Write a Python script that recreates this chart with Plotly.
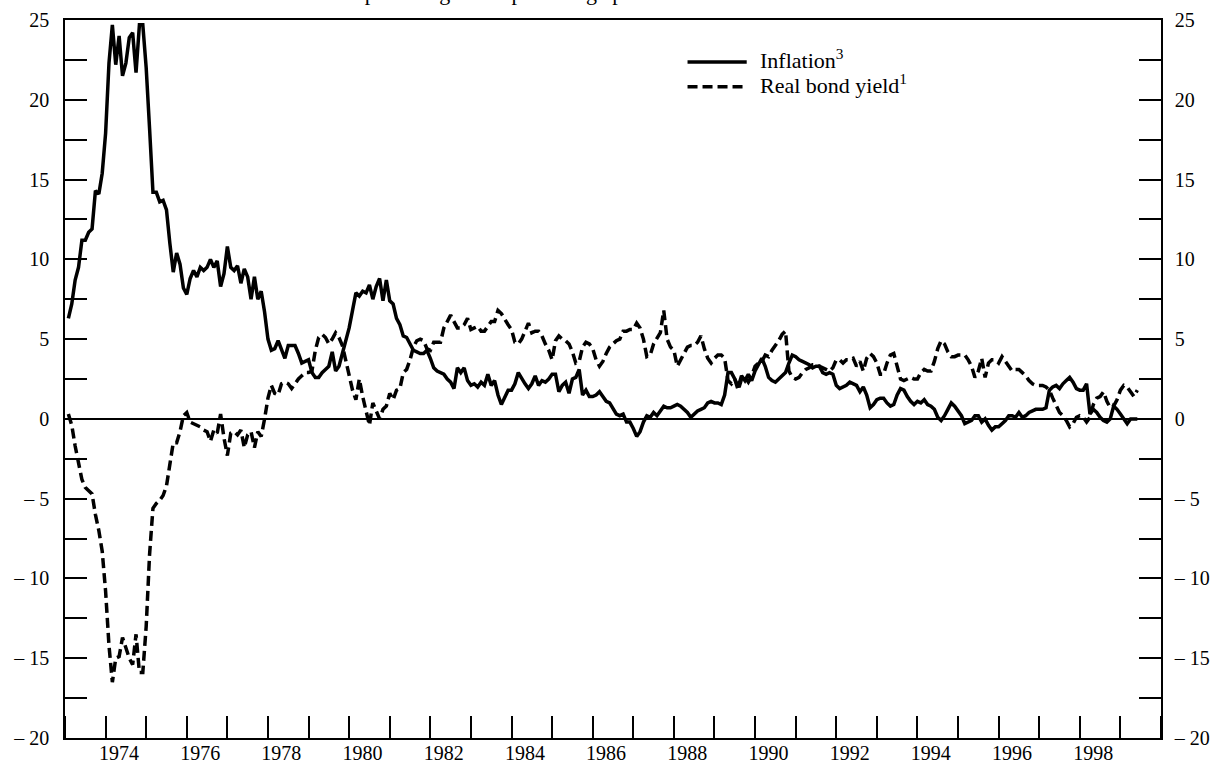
import plotly.graph_objects as go

# ---- data (monthly, Feb 1973 onwards) ----
start_year = 1973
inflation = [
    6.3, 7.2, 8.7, 9.5, 11.2, 11.2, 11.7, 11.9, 14.3, 14.1, 15.4, 17.9,
    22.3, 24.7, 22.2, 24.0, 21.5, 22.3, 23.9, 24.2, 21.7, 24.7, 24.7, 22.0,
    18.2, 14.2, 14.2, 13.6, 13.7, 13.1, 11.0, 9.2, 10.4, 9.7, 8.2, 7.8,
    8.8, 9.3, 8.9, 9.5, 9.3, 9.5, 10.0, 9.5, 9.9, 8.3, 9.1, 10.8,
    9.5, 9.3, 9.6, 8.5, 9.4, 8.9, 7.5, 8.9, 7.5, 8.0, 6.7, 5.0,
    4.3, 4.4, 4.9, 4.3, 3.8, 4.6, 4.6, 4.6, 4.1, 3.5, 3.6, 3.7,
    2.9, 2.6, 2.6, 2.9, 3.1, 3.3, 4.2, 3.0, 3.3, 4.1, 4.9, 5.7,
    6.8, 7.9, 7.7, 8.0, 7.9, 8.4, 7.5, 8.3, 8.8, 7.4, 8.7, 7.4,
    7.2, 6.3, 5.9, 5.2, 5.1, 4.7, 4.3, 4.2, 4.1, 4.1, 4.3, 3.8,
    3.2, 3.0, 2.9, 2.8, 2.5, 2.3, 1.9, 3.2, 2.9, 3.2, 2.4, 2.1,
    2.2, 2.0, 2.3, 2.1, 2.8, 2.1, 2.4, 1.5, 0.9, 1.3, 1.8, 1.8,
    2.2, 2.9, 2.5, 2.2, 1.9, 2.2, 2.7, 2.1, 2.4, 2.3, 2.5, 2.8,
    2.8, 1.7, 2.1, 2.3, 1.6, 2.5, 2.6, 3.1, 1.5, 1.8, 1.4, 1.4,
    1.5, 1.7, 1.4, 1.1, 1.0, 0.6, 0.3, 0.2, 0.3, -0.2, -0.2, -0.6,
    -1.1, -0.8, -0.2, 0.2, 0.1, 0.4, 0.2, 0.5, 0.8, 0.7, 0.7, 0.8,
    0.9, 0.8, 0.6, 0.4, 0.1, 0.3, 0.5, 0.6, 0.7, 1.0, 1.1, 1.0,
    1.0, 0.9, 1.5, 2.9, 2.9, 2.5, 2.0, 2.7, 2.4, 2.8, 2.4, 3.0,
    3.4, 3.8, 3.3, 2.6, 2.4, 2.3, 2.5, 2.7, 2.9, 3.5, 4.0, 3.9,
    3.7, 3.6, 3.5, 3.4, 3.2, 3.3, 3.3, 2.9, 2.8, 2.9, 2.8, 2.1,
    1.9, 2.0, 2.1, 2.3, 2.2, 2.1, 1.7, 2.0, 1.5, 0.7, 0.9, 1.2,
    1.3, 1.3, 1.0, 0.8, 0.9, 1.5, 1.9, 1.8, 1.4, 1.1, 0.9, 1.1,
    1.0, 1.2, 0.9, 0.8, 0.6, 0.1, -0.1, 0.2, 0.6, 1.0, 0.8, 0.5,
    0.2, -0.3, -0.2, -0.1, 0.2, 0.2, -0.2, 0.0, -0.4, -0.7, -0.5, -0.5,
    -0.3, -0.1, 0.2, 0.2, 0.1, 0.4, 0.1, 0.2, 0.4, 0.5, 0.6, 0.6,
    0.6, 0.7, 1.8, 2.0, 2.1, 1.9, 2.2, 2.4, 2.6, 2.3, 1.9, 1.8,
    1.8, 2.2, 0.3, 0.6, 0.4, 0.1, -0.1, -0.2, 0.0, 0.8, 0.6, 0.3,
    0.0, -0.3, 0.0, 0.0, 0.0,
]
real_bond_yield = [
    0.3, -0.4, -1.7, -2.8, -3.8, -4.3, -4.5, -4.7, -6.0, -7.0, -8.3, -10.8,
    -14.2, -16.5, -15.0, -14.9, -13.7, -14.4, -15.0, -15.4, -13.5, -15.9, -15.9, -13.0,
    -8.5, -5.6, -5.3, -5.1, -4.8, -4.2, -3.0, -1.5, -1.5, -0.8, 0.2, 0.4,
    -0.2, -0.3, -0.4, -0.5, -0.7, -0.8, -1.4, -0.7, -0.9, 0.3, -1.2, -2.3,
    -0.9, -0.8, -1.0, -0.7, -1.8, -1.0, -0.8, -1.8, -0.8, -1.1, 0.0, 1.3,
    2.1, 1.6, 1.5, 2.2, 2.3, 2.2, 1.9, 2.2, 2.5, 2.7, 2.9, 2.9,
    3.0, 4.3, 5.1, 5.3, 5.1, 4.7, 5.0, 5.4, 5.1, 4.6, 3.7, 2.7,
    1.8, 1.2, 2.5, 1.4, 0.5, -0.4, 1.0, 0.5, 0.0, 0.6, 0.8, 1.6,
    1.2, 1.8, 1.9, 2.9, 3.1, 3.7, 4.5, 4.9, 5.0, 4.9, 4.4, 4.3,
    4.8, 4.8, 4.8, 5.7, 6.1, 6.5, 6.1, 5.7, 5.7, 5.9, 6.3, 5.6,
    5.7, 5.8, 5.5, 5.5, 5.8, 6.1, 6.1, 6.8, 6.6, 6.2, 5.9, 5.6,
    4.8, 4.7, 5.0, 5.5, 6.0, 5.4, 5.5, 5.5, 5.2, 4.7, 4.3, 3.7,
    4.9, 5.2, 5.0, 4.9, 4.7, 4.2, 3.5, 3.6, 4.5, 4.8, 4.7, 4.4,
    3.7, 3.3, 3.6, 4.1, 4.5, 4.7, 4.9, 5.0, 5.5, 5.5, 5.6, 5.6,
    6.0, 5.7, 5.0, 3.9, 4.0, 4.7, 5.1, 5.4, 6.8, 5.0, 4.5, 4.3,
    3.3, 3.7, 4.0, 4.5, 4.6, 4.6, 4.8, 5.2, 4.4, 3.8, 3.5, 3.8,
    4.0, 4.0, 3.8, 2.4, 2.2, 2.5, 1.8, 2.5, 2.6, 2.3, 2.7, 3.3,
    3.5, 3.6, 4.0, 3.9, 4.3, 4.6, 4.9, 5.3, 5.5, 3.0, 2.6, 2.5,
    2.6, 2.9, 3.1, 3.2, 3.4, 3.4, 3.3, 3.2, 3.1, 3.0, 3.2, 3.7,
    3.7, 3.5, 3.7, 3.7, 3.8, 3.3, 3.6, 3.0, 3.8, 4.1, 3.9, 3.5,
    2.8, 2.8, 3.5, 4.0, 4.1, 3.2, 2.5, 2.4, 2.5, 2.6, 2.5, 2.5,
    2.9, 3.1, 3.0, 3.0, 3.6, 4.4, 4.9, 4.7, 4.2, 3.9, 3.9, 4.0,
    4.0, 4.0, 3.7, 3.3, 2.6, 3.0, 3.8, 2.6, 3.5, 3.7, 3.7, 3.5,
    3.9, 3.6, 3.3, 3.0, 3.1, 3.1, 2.9, 2.7, 2.4, 2.2, 2.1, 2.1,
    2.1, 2.0, 1.8, 1.3, 0.8, 0.4, 0.2, -0.1, -0.5, -0.3, 0.1, 0.2,
    0.1, -0.2, 0.1, 0.9, 1.3, 1.4, 1.7, 1.1, 0.7, 0.8, 1.2, 1.8,
    2.1, 2.0, 1.7, 1.4, 1.8,
]
x_label_years = [1974, 1976, 1978, 1980, 1982, 1984, 1986, 1988, 1990, 1992, 1994, 1996, 1998]
y_tick_values = [-20, -15, -10, -5, 0, 5, 10, 15, 20, 25]
y_tick_text = ["\u2013 20", "\u2013 15", "\u2013 10", "\u2013 5", "0", "5", "10", "15", "20", "25"]
series_names = ["Inflation<sup>3</sup>", "Real bond yield<sup>1</sup>"]
title_text = "In percentages and percentage points"

months = [start_year + (i + 1) / 12 for i in range(len(inflation))]

FONT = "Liberation Serif, Times New Roman, serif"
LINE_W = 3.5
DASH = "10px,5px"

fig = go.Figure()
fig.add_trace(go.Scatter(
    x=months, y=inflation, mode="lines", name=series_names[0],
    line=dict(color="black", width=LINE_W), yaxis="y"))
fig.add_trace(go.Scatter(
    x=months, y=real_bond_yield, mode="lines", name=series_names[1],
    line=dict(color="black", width=LINE_W, dash=DASH), yaxis="y2"))

tick_style = dict(ticks="inside", ticklen=22, tickwidth=2, tickcolor="black")

# manual legend (line samples + labels) in paper coordinates
legend_rows = [(0.9415, None), (0.907, DASH)]
shapes = []
annotations = []
for (ly, dash), name in zip(legend_rows, series_names):
    shapes.append(dict(type="line", xref="paper", yref="paper",
                       x0=0.568, x1=0.622, y0=ly, y1=ly,
                       line=dict(color="black", width=LINE_W,
                                 dash=dash if dash else "solid")))
    annotations.append(dict(text=name, xref="paper", yref="paper",
                            x=0.632, y=ly + 0.004, xanchor="left", yanchor="middle",
                            showarrow=False, font=dict(size=22, family=FONT)))
annotations.append(dict(text=title_text, xref="paper", yref="paper", x=0.40, y=1.018,
                        xanchor="center", yanchor="bottom", showarrow=False,
                        font=dict(size=22, family=FONT)))

fig.update_layout(
    width=1231, height=766,
    margin=dict(l=65, r=70, t=20, b=28, autoexpand=False),
    paper_bgcolor="white", plot_bgcolor="white",
    font=dict(family=FONT, size=20, color="black"),
    showlegend=False,
    xaxis=dict(range=[1973, 2000], showgrid=False, zeroline=False, automargin=False,
               showline=True, linecolor="black", linewidth=1.5, mirror=True,
               tickmode="array", tickvals=[yr + 0.33 for yr in x_label_years],
               ticktext=[str(yr) for yr in x_label_years], ticks="",
               ticklabelstandoff=-4,
               minor=dict(tickmode="linear", tick0=1974, dtick=1, **tick_style)),
    yaxis=dict(range=[-20, 25], showgrid=False, zeroline=True, zerolinecolor="black",
               zerolinewidth=1.5, showline=True, linecolor="black", linewidth=1.5,
               automargin=False, ticklabelstandoff=10,
               tickmode="array", tickvals=y_tick_values, ticktext=y_tick_text,
               minor=dict(tickmode="linear", tick0=0, dtick=2.5, **tick_style),
               **tick_style),
    yaxis2=dict(range=[-20, 25], overlaying="y", side="right", showgrid=False,
                zeroline=False, showline=True, linecolor="black", linewidth=1.5,
                automargin=False, ticklabelstandoff=8,
                tickmode="array", tickvals=y_tick_values, ticktext=y_tick_text,
                minor=dict(tickmode="linear", tick0=0, dtick=2.5, **tick_style),
                **tick_style),
    shapes=shapes,
    annotations=annotations,
)
fig.write_html("out.html")
